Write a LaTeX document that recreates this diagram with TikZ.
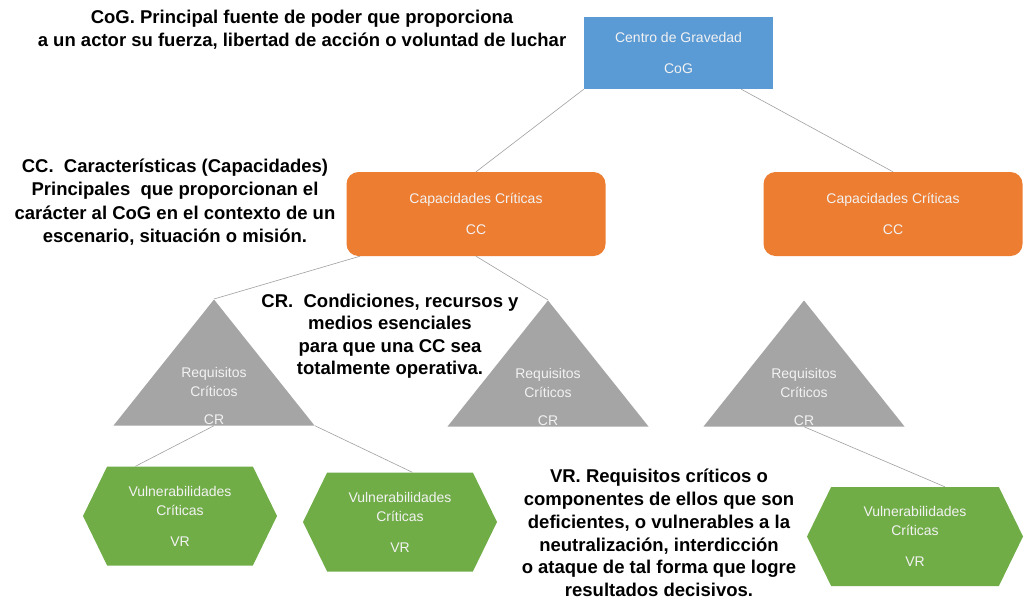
\documentclass[tikz,border=0pt]{standalone}
\usepackage{fontspec}
\setmainfont{Liberation Sans}
\usetikzlibrary{shapes.geometric,shapes.symbols,positioning}

\definecolor{cogblue}{HTML}{5B9BD5}
\definecolor{ccorange}{HTML}{ED7D31}
\definecolor{crgray}{HTML}{A5A5A5}
\definecolor{vrgreen}{HTML}{70AD47}
\definecolor{linkgray}{HTML}{A0A0A0}

\tikzset{
	box/.style={text=white!95!black, align=center, inner sep=0pt, font=\fontsize{14}{19}\selectfont},
	cogbox/.style={box, fill=cogblue, minimum width=189pt, minimum height=72pt},
	ccbox/.style={box, fill=ccorange, rounded corners=12pt, minimum width=259pt, minimum height=84pt},
	crtri/.style={fill=crgray, isosceles triangle, shape border rotate=90, isosceles triangle stretches,
		minimum width=201pt, minimum height=126pt, inner sep=0pt, anchor=apex},
	crlabel/.style={box, anchor=south},
	vrhex/.style={box, fill=vrgreen, signal, signal to=east and west, signal pointer angle=128, minimum height=99pt},
	note/.style={align=center, font=\bfseries\fontsize{18.5}{23}\selectfont},
	link/.style={draw=linkgray, line width=0.6pt},
}

\begin{document}
\begin{tikzpicture}[x=1pt, y=-1pt]
	\fill[white] (0,0) rectangle (1024,608);
	\useasboundingbox (0,0) rectangle (1024,608);

	\node[cogbox] (cog) at (678.5,53) {Centro de Gravedad\\[12pt]CoG};
	\node[ccbox] (cc1) at (476,214) {Capacidades Críticas\\[12pt]CC};
	\node[ccbox] (cc2) at (893,214) {Capacidades Críticas\\[12pt]CC};

	\node[crtri] (t1) at (214,299) {};
	\node[crtri] (t2) at (548,300) {};
	\node[crtri] (t3) at (804,300) {};
	\node[crlabel, above=1pt of t1.lower side] (t1l) {Requisitos\\Críticos\\[9pt]CR};
	\node[crlabel, above=1pt of t2.lower side] (t2l) {Requisitos\\Críticos\\[9pt]CR};
	\node[crlabel, above=1pt of t3.lower side] (t3l) {Requisitos\\Críticos\\[9pt]CR};

	\node[vrhex, minimum width=194pt] (h1) at (180,516) {Vulnerabilidades\\Críticas\\[12pt]VR};
	\node[vrhex, minimum width=194pt] (h2) at (400,522) {Vulnerabilidades\\Críticas\\[12pt]VR};
	\node[vrhex, minimum width=216pt] (h3) at (915,536.5) {Vulnerabilidades\\Críticas\\[12pt]VR};

	\node[note] (cogtxt) at (302,30) {CoG. Principal fuente de poder que proporciona\\a un actor su fuerza, libertad de acción o voluntad de luchar};
	\node[note, font=\bfseries\fontsize{18.5}{23.5}\selectfont] (cctxt) at (175,202) {CC.\ \ Características (Capacidades)\\Principales\ \ que proporcionan el\\carácter al CoG en el contexto de un\\escenario, situación o misión.};
	\node[note, font=\bfseries\fontsize{18.5}{22.5}\selectfont] (crtxt) at (390,336) {CR.\ \ Condiciones, recursos y\\medios esenciales\\para que una CC sea\\totalmente operativa.};
	\node[note, font=\bfseries\fontsize{18.5}{22.8}\selectfont] (vrtxt) at (659,533) {VR. Requisitos críticos o\\componentes de ellos que son\\deficientes, o vulnerables a la\\neutralización, interdicción\\o ataque de tal forma que logre\\resultados decisivos.};

	\draw[link] (cog.south west) -- (cc1.north);
	\draw[link] (cog.-30) -- (cc2.north);
	\draw[link] (cc1.200) -- (t1.apex);
	\draw[link] (cc1.south) -- (t2.apex);
	\draw[link] (t1.lower side) -- (h1.132);
	\draw[link] (t1.right corner) -- (h2.76);
	\draw[link] (t3.lower side) -- (h3.59);
\end{tikzpicture}
\end{document}
